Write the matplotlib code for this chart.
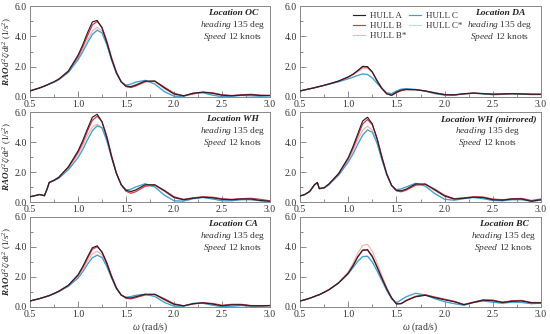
import numpy as np
import matplotlib
matplotlib.use("Agg")
import matplotlib.pyplot as plt
from matplotlib.ticker import MultipleLocator

plt.rcParams['font.family'] = ['Liberation Serif', 'DejaVu Serif']
plt.rcParams['mathtext.fontset'] = 'custom'
plt.rcParams['mathtext.rm'] = 'Liberation Serif'
plt.rcParams['mathtext.it'] = 'Liberation Serif:italic'
plt.rcParams['mathtext.bf'] = 'Liberation Serif:bold'
plt.rcParams['mathtext.bfit'] = 'Liberation Serif:bold:italic'

# frequency grid (rad/s)
w = [0.50, 0.55, 0.60, 0.65, 0.68, 0.70, 0.75, 0.80, 0.90, 1.00, 1.05, 1.10,
     1.15, 1.20, 1.25, 1.30, 1.35, 1.40, 1.45, 1.50, 1.55, 1.60, 1.70, 1.80,
     1.90, 2.00, 2.10, 2.20, 2.30, 2.40, 2.50, 2.60, 2.70, 2.80, 2.90, 3.00]

hulls = ['HULL A', 'HULL B', 'HULL B*', 'HULL C', 'HULL C*']

# Location OC
oc_a = [0.40,0.50,0.60,0.72,0.80,0.86,1.00,1.18,1.72,2.75,3.45,4.25,4.95,5.05,4.55,3.60,2.50,1.60,1.00,0.72,0.68,0.78,1.05,1.05,0.60,0.20,0.08,0.25,0.32,0.25,0.12,0.08,0.12,0.15,0.10,0.10]
oc_b = [0.40,0.50,0.60,0.72,0.80,0.86,1.00,1.17,1.68,2.65,3.30,4.05,4.75,4.98,4.60,3.70,2.60,1.65,1.00,0.68,0.62,0.72,1.00,1.05,0.65,0.25,0.08,0.20,0.32,0.28,0.15,0.10,0.15,0.18,0.12,0.10]
oc_bs = [0.40,0.50,0.60,0.72,0.80,0.86,1.00,1.16,1.65,2.55,3.10,3.75,4.35,4.60,4.35,3.55,2.50,1.60,1.00,0.72,0.70,0.82,1.05,1.00,0.55,0.18,0.06,0.22,0.30,0.22,0.10,0.08,0.12,0.14,0.10,0.10]
oc_c = [0.40,0.50,0.60,0.71,0.79,0.85,0.98,1.14,1.62,2.45,2.98,3.58,4.12,4.40,4.22,3.45,2.42,1.55,1.00,0.78,0.85,0.98,1.10,0.85,0.35,0.05,0.04,0.25,0.28,0.12,0.02,0.05,0.10,0.08,0.05,0.08]
oc_cs = [0.40,0.50,0.60,0.71,0.79,0.85,0.98,1.14,1.63,2.48,3.02,3.62,4.16,4.44,4.25,3.48,2.45,1.57,1.00,0.78,0.84,0.97,1.10,0.86,0.37,0.06,0.04,0.24,0.28,0.13,0.03,0.05,0.10,0.08,0.05,0.08]

# Location DA
da_a = [0.40,0.47,0.54,0.61,0.66,0.69,0.77,0.86,1.05,1.32,1.50,1.75,2.02,2.00,1.65,1.05,0.55,0.20,0.12,0.32,0.45,0.50,0.48,0.40,0.26,0.15,0.14,0.22,0.26,0.22,0.18,0.20,0.22,0.20,0.18,0.18]
da_b = [0.40,0.47,0.54,0.61,0.66,0.69,0.77,0.86,1.05,1.32,1.50,1.73,1.98,1.97,1.65,1.08,0.58,0.22,0.10,0.28,0.42,0.48,0.48,0.40,0.28,0.17,0.14,0.20,0.25,0.23,0.20,0.20,0.22,0.21,0.19,0.18]
da_bs = [0.40,0.47,0.54,0.61,0.66,0.69,0.77,0.86,1.04,1.30,1.46,1.66,1.88,1.90,1.62,1.08,0.60,0.24,0.12,0.30,0.44,0.50,0.48,0.40,0.27,0.16,0.14,0.21,0.25,0.22,0.19,0.20,0.22,0.20,0.18,0.18]
da_c = [0.40,0.47,0.54,0.61,0.66,0.69,0.76,0.84,1.00,1.20,1.30,1.42,1.52,1.48,1.25,0.90,0.55,0.28,0.22,0.40,0.52,0.55,0.50,0.38,0.22,0.12,0.12,0.20,0.25,0.20,0.15,0.17,0.20,0.18,0.16,0.16]
da_cs = [0.40,0.47,0.54,0.61,0.66,0.69,0.76,0.84,1.00,1.21,1.31,1.44,1.54,1.50,1.27,0.92,0.56,0.28,0.21,0.39,0.51,0.54,0.50,0.38,0.23,0.13,0.12,0.20,0.25,0.20,0.15,0.17,0.20,0.18,0.16,0.16]

# Location WH
wh_a = [0.35,0.42,0.50,0.42,0.90,1.30,1.45,1.65,2.35,3.40,4.10,4.90,5.65,5.85,5.35,4.30,3.00,1.90,1.15,0.78,0.70,0.80,1.15,1.15,0.75,0.30,0.15,0.25,0.32,0.28,0.18,0.15,0.20,0.20,0.10,0.05]
wh_b = [0.35,0.42,0.50,0.42,0.90,1.30,1.45,1.64,2.30,3.30,3.95,4.75,5.45,5.72,5.35,4.40,3.10,1.95,1.15,0.72,0.58,0.68,1.05,1.12,0.78,0.35,0.18,0.28,0.35,0.32,0.22,0.18,0.22,0.25,0.18,0.08]
wh_bs = [0.35,0.42,0.50,0.42,0.90,1.30,1.45,1.63,2.25,3.15,3.75,4.45,5.00,5.20,4.95,4.10,2.95,1.90,1.15,0.75,0.65,0.78,1.10,1.08,0.70,0.28,0.14,0.26,0.32,0.28,0.18,0.15,0.20,0.22,0.14,0.06]
wh_c = [0.35,0.42,0.50,0.42,0.90,1.28,1.42,1.58,2.15,2.95,3.50,4.15,4.75,5.08,4.95,4.10,2.95,1.90,1.15,0.80,0.85,1.00,1.22,1.00,0.45,0.08,0.06,0.22,0.30,0.20,0.08,0.08,0.15,0.15,0.08,0.05]
wh_cs = [0.35,0.42,0.50,0.42,0.90,1.28,1.42,1.58,2.16,2.97,3.53,4.18,4.78,5.10,4.97,4.12,2.97,1.91,1.15,0.80,0.84,0.99,1.21,1.01,0.47,0.09,0.06,0.22,0.30,0.21,0.09,0.08,0.15,0.15,0.08,0.05]

# Location WH (mirrored)
whm_a = [0.40,0.50,0.70,1.15,1.30,0.90,0.95,1.20,1.90,2.95,3.70,4.55,5.40,5.65,5.20,4.20,2.95,1.85,1.10,0.78,0.75,0.85,1.20,1.20,0.80,0.40,0.20,0.25,0.32,0.30,0.15,0.12,0.20,0.20,0.05,0.15]
whm_b = [0.40,0.50,0.70,1.15,1.30,0.90,0.95,1.19,1.86,2.88,3.58,4.40,5.20,5.50,5.15,4.25,3.02,1.90,1.12,0.74,0.68,0.78,1.12,1.18,0.85,0.45,0.22,0.28,0.35,0.33,0.20,0.15,0.22,0.24,0.10,0.20]
whm_bs = [0.40,0.50,0.70,1.15,1.30,0.90,0.95,1.18,1.82,2.78,3.42,4.15,4.80,5.05,4.80,4.00,2.90,1.85,1.10,0.76,0.72,0.84,1.16,1.14,0.76,0.38,0.18,0.26,0.32,0.30,0.16,0.12,0.20,0.22,0.08,0.16]
whm_c = [0.40,0.50,0.70,1.13,1.28,0.88,0.92,1.15,1.78,2.65,3.20,3.85,4.45,4.80,4.65,3.90,2.80,1.80,1.10,0.82,0.88,1.00,1.25,1.05,0.55,0.18,0.12,0.22,0.30,0.22,0.10,0.08,0.15,0.15,0.05,0.12]
whm_cs = [0.40,0.50,0.70,1.13,1.28,0.88,0.92,1.15,1.79,2.67,3.23,3.88,4.48,4.83,4.67,3.92,2.82,1.81,1.10,0.82,0.87,0.99,1.24,1.06,0.57,0.19,0.12,0.22,0.30,0.22,0.11,0.08,0.15,0.15,0.05,0.12]

# Location CA
ca_a = [0.40,0.48,0.56,0.66,0.72,0.76,0.90,1.05,1.45,2.15,2.70,3.35,3.95,4.08,3.65,2.90,2.00,1.25,0.80,0.62,0.60,0.68,0.85,0.85,0.50,0.18,0.08,0.22,0.28,0.20,0.08,0.15,0.15,0.08,0.08,0.10]
ca_b = [0.40,0.48,0.56,0.66,0.72,0.76,0.90,1.05,1.44,2.10,2.62,3.25,3.85,4.02,3.68,2.98,2.08,1.30,0.80,0.58,0.54,0.62,0.80,0.84,0.55,0.22,0.08,0.20,0.28,0.24,0.12,0.18,0.18,0.10,0.08,0.10]
ca_bs = [0.40,0.48,0.56,0.66,0.72,0.76,0.89,1.04,1.42,2.02,2.50,3.05,3.55,3.72,3.48,2.85,2.02,1.27,0.80,0.62,0.60,0.70,0.84,0.80,0.45,0.15,0.06,0.22,0.27,0.18,0.07,0.12,0.14,0.07,0.07,0.10]
ca_c = [0.40,0.48,0.56,0.65,0.71,0.75,0.88,1.02,1.38,1.92,2.35,2.85,3.28,3.45,3.30,2.70,1.92,1.22,0.80,0.65,0.70,0.78,0.85,0.70,0.30,0.05,0.05,0.25,0.25,0.12,0.02,0.05,0.10,0.05,0.05,0.08]
ca_cs = [0.40,0.48,0.56,0.65,0.71,0.75,0.88,1.02,1.39,1.94,2.38,2.88,3.31,3.48,3.32,2.72,1.94,1.23,0.80,0.65,0.69,0.77,0.85,0.71,0.32,0.06,0.05,0.24,0.25,0.13,0.03,0.05,0.10,0.05,0.05,0.08]

# Location BC
bc_a = [0.40,0.48,0.58,0.70,0.78,0.82,0.98,1.15,1.60,2.25,2.75,3.35,3.78,3.80,3.35,2.65,1.90,1.20,0.60,0.20,0.22,0.42,0.68,0.78,0.62,0.48,0.35,0.15,0.30,0.45,0.42,0.30,0.38,0.40,0.28,0.28]
bc_b = [0.40,0.48,0.58,0.70,0.78,0.82,0.98,1.15,1.60,2.25,2.76,3.36,3.80,3.84,3.40,2.70,1.95,1.22,0.62,0.22,0.24,0.44,0.72,0.82,0.66,0.52,0.38,0.17,0.33,0.48,0.46,0.32,0.42,0.44,0.30,0.30]
bc_bs = [0.40,0.48,0.58,0.70,0.78,0.82,0.98,1.16,1.63,2.35,2.90,3.60,4.10,4.18,3.72,2.95,2.10,1.30,0.65,0.22,0.22,0.40,0.70,0.80,0.65,0.50,0.36,0.16,0.32,0.46,0.44,0.30,0.40,0.42,0.28,0.28]
bc_c = [0.40,0.48,0.58,0.70,0.78,0.82,0.98,1.15,1.60,2.20,2.62,3.05,3.35,3.38,3.00,2.40,1.75,1.10,0.55,0.28,0.48,0.68,0.92,0.80,0.55,0.35,0.22,0.12,0.30,0.40,0.32,0.25,0.32,0.30,0.22,0.25]
bc_cs = [0.40,0.48,0.58,0.70,0.78,0.82,0.98,1.15,1.61,2.22,2.65,3.08,3.38,3.41,3.03,2.42,1.77,1.11,0.56,0.29,0.47,0.67,0.91,0.80,0.56,0.36,0.22,0.13,0.30,0.40,0.33,0.25,0.32,0.30,0.22,0.25]

panels = [
    ('Location OC', [oc_a, oc_b, oc_bs, oc_c, oc_cs]),
    ('Location DA', [da_a, da_b, da_bs, da_c, da_cs]),
    ('Location WH', [wh_a, wh_b, wh_bs, wh_c, wh_cs]),
    ('Location WH (mirrored)', [whm_a, whm_b, whm_bs, whm_c, whm_cs]),
    ('Location CA', [ca_a, ca_b, ca_bs, ca_c, ca_cs]),
    ('Location BC', [bc_a, bc_b, bc_bs, bc_c, bc_cs]),
]

colors = ['#2b1f22', '#d8344a', '#f4b3b3', '#3d9fd3', '#b5e0ea']
zorder = [5, 4, 2, 3, 1]

fig = plt.figure(figsize=(5.5, 3.34), dpi=100)
W, H = 550.0, 334.0
lefts = [30, 300]
widths = [240, 241]
tops = [6, 112, 217]
heights = [91, 90, 90]
text_cx = [0.845, 0.83, 0.845, 0.78, 0.845, 0.845]

axes = []
for i, (title, series) in enumerate(panels):
    r, c = divmod(i, 2)
    ax = fig.add_axes([lefts[c] / W, 1 - (tops[r] + heights[r]) / H,
                       widths[c] / W, heights[r] / H])
    for k in [4, 2, 3, 1, 0]:
        ax.plot(w, series[k], color=colors[k], lw=0.85, zorder=zorder[k],
                label=hulls[k])
    ax.set_xlim(0.5, 3.0)
    ax.set_ylim(0, 6)
    ax.xaxis.set_major_locator(MultipleLocator(0.5))
    ax.xaxis.set_minor_locator(MultipleLocator(0.25))
    ax.yaxis.set_major_locator(MultipleLocator(2))
    ax.yaxis.set_minor_locator(MultipleLocator(1))
    ax.xaxis.set_major_formatter(matplotlib.ticker.FormatStrFormatter('%.1f'))
    ax.yaxis.set_major_formatter(matplotlib.ticker.FormatStrFormatter('%.1f'))
    ax.tick_params(which='both', direction='in', colors='#777777',
                   labelcolor='#333333', labelsize=7, width=0.6, pad=2)
    ax.tick_params(which='major', length=4)
    ax.tick_params(which='minor', length=2.5)
    for s in ax.spines.values():
        s.set_color('#888888')
        s.set_linewidth(0.7)
    cx = text_cx[i]
    ax.text(cx, 0.925, title, transform=ax.transAxes, ha='center', va='center',
            fontsize=6.8, fontweight='bold', style='italic', color='#222222')
    ax.text(cx, 0.79, r'$\mathit{heading}$ 135 deg', transform=ax.transAxes,
            ha='center', va='center', fontsize=6.8, color='#333333')
    ax.text(cx, 0.66, r'$\mathit{Speed}$ 12 knots', transform=ax.transAxes,
            ha='center', va='center', fontsize=6.8, color='#333333')
    if c == 0:
        ax.set_ylabel(r'$\mathbfit{RAO}\,\mathit{d^2\zeta/dt^2}$ (1/s$^2$)',
                      fontsize=6.5, labelpad=1, color='#222222')
    if r == 2:
        ax.set_xlabel(r'$\omega$ (rad/s)', fontsize=7, labelpad=1,
                      color='#333333')
    axes.append(ax)

handles, labels = axes[1].get_legend_handles_labels()
order = [labels.index(h) for h in hulls]
axes[1].legend([handles[j] for j in order], [labels[j] for j in order],
               ncol=2, loc='upper right', bbox_to_anchor=(0.70, 1.01),
               frameon=False, fontsize=6.5, handlelength=1.4,
               handletextpad=0.5, columnspacing=0.3, labelspacing=0.2,
               borderpad=0.2, labelcolor='#333333')

fig.savefig('out.png', dpi=100)
